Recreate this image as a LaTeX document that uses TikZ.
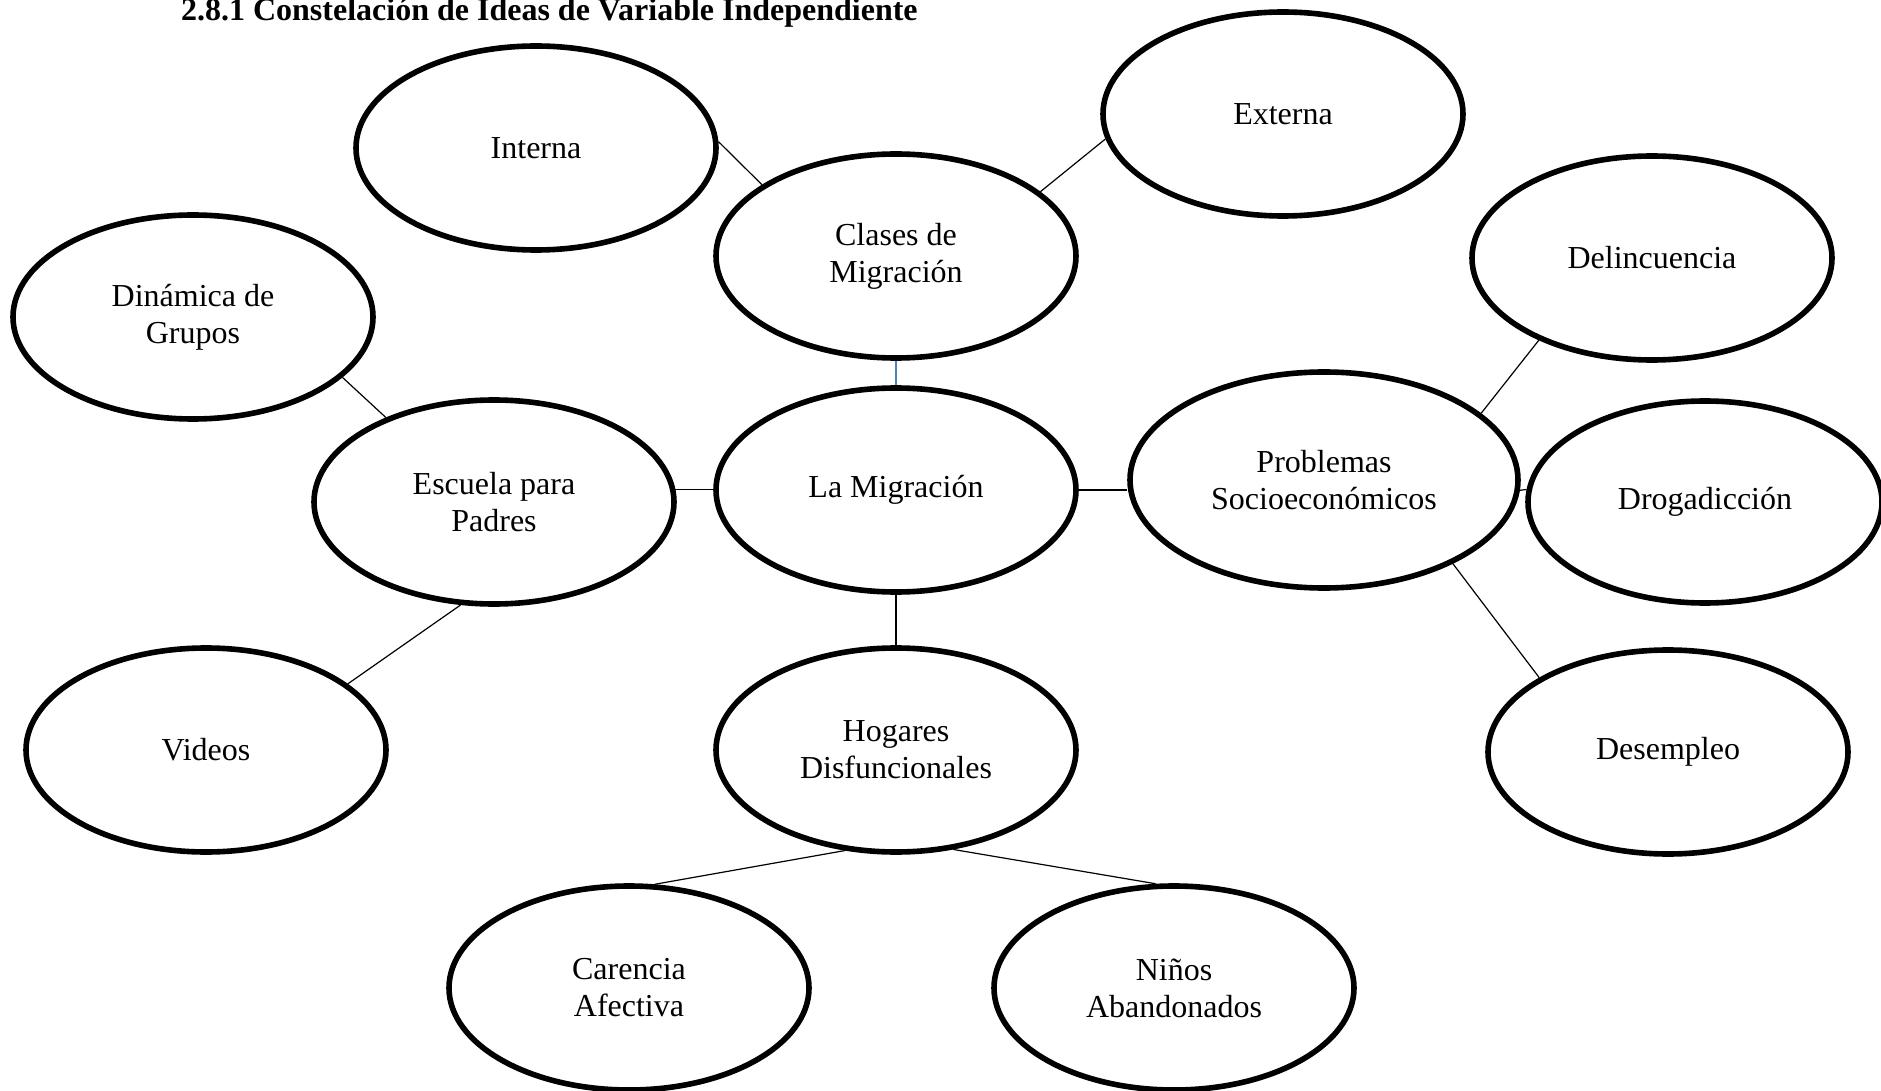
\documentclass[tikz,border=0pt]{standalone}
\usepackage{fontspec}
\setmainfont{Liberation Serif}
\usetikzlibrary{shapes.geometric}
\definecolor{linkblue}{RGB}{79,129,189}
\begin{document}
\begin{tikzpicture}[x=0.5pt, y=-0.5pt,
  idea/.style = {ellipse, draw = black, line width = 2.8pt, minimum width = 180pt, minimum height = 102pt, inner sep = 0pt, align = center, font = \fontsize{16}{18.5}\selectfont},
  link/.style = {draw = black, line width = 0.6pt}]
\useasboundingbox (0,0) rectangle (1881,1091);
\node[anchor = base west, font = \fontsize{16}{18}\selectfont\bfseries] (title) at (174,21) {2.8.1 Constelación de Ideas de Variable Independiente};
\node[idea] (interna) at (536,148) {Interna};
\node[idea] (clases) at (896,256) {Clases de\\Migración};
\node[idea] (externa) at (1283,114) {Externa};
\node[idea] (dinamica) at (193,317) {Dinámica de\\Grupos};
\node[idea] (delinc) at (1652,258) {Delincuencia};
\node[idea] (escuela) at (494,502) {Escuela para\\Padres};
\node[idea] (migra) at (896,490) {La Migración};
\node[idea, minimum width = 194pt, minimum height = 108pt] (problemas) at (1324,480) {Problemas\\Socioeconómicos};
\node[idea, minimum width = 177pt, minimum height = 101pt] (droga) at (1705,502) {Drogadicción};
\node[idea] (videos) at (206,750) {Videos};
\node[idea] (hogares) at (896,750) {Hogares\\Disfuncionales};
\node[idea] (desempleo) at (1668,752) {Desempleo};
\node[idea] (carencia) at (629,988) {Carencia\\Afectiva};
\node[idea] (ninos) at (1174,988) {Niños\\Abandonados};
\draw[link] (interna.2) -- (clases.152);
\draw[link] (clases.24) -- (externa.188);
\draw[link, draw = linkblue] (clases.south) -- (migra.north);
\draw[link] (dinamica.-22) -- (escuela.142);
\draw[link] (escuela.4) -- (escuela.4 -| migra.west);
\draw[link] (migra.east) -- (migra.east -| problemas.west);
\draw[link] (problemas.23) -- (delinc.216);
\draw[link] (problemas.-3) -- (droga.176);
\draw[link] (problemas.-33) -- (desempleo.150);
\draw[link] (escuela.252) -- (videos.25);
\draw[link] (migra.south) -- (hogares.north);
\draw[link] (hogares.243) -- (carencia.76);
\draw[link] (hogares.-60) -- (ninos.100);
\end{tikzpicture}
\end{document}
